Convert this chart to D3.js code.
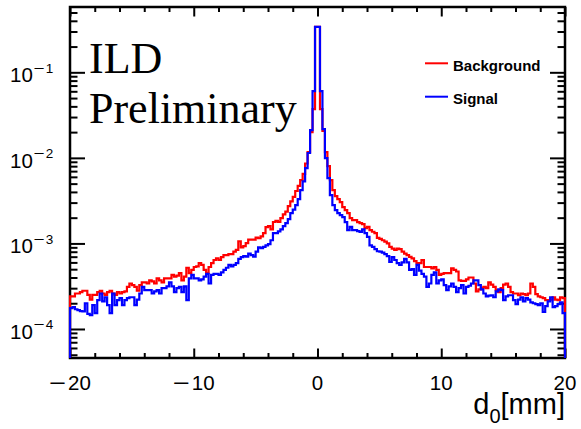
<!DOCTYPE html>
<html>
<head>
<meta charset="utf-8">
<script src="https://cdn.jsdelivr.net/npm/d3@7"></script>
<style>
  body { margin: 0; background: #fff; }
  svg { display: block; }
  .tick line { stroke: #000; stroke-width: 2; }
</style>
</head>
<body>
<div id="chart"></div>
<script>
// d0 histograms: 200 bins of 0.2 mm from -20 to 20, normalised
// values below are in units of 1e-4
const unit = 1e-4;
const xMin = -20, xMax = 20, nBins = 200;

const background = [
  2.4, 2.4, 2.6, 2.6, 2.7, 2.8, 2.8, 2.5, 2.2, 2.5,
  2.5, 2.7, 2.8, 2.6, 2.5, 2.7, 2.8, 2.6, 2.5, 2.7,
  2.6, 2.7, 2.75, 3.1, 3.4, 3.25, 3.1, 2.8, 3.25, 3.5,
  3.5, 3.4, 3.7, 3.6, 3.4, 3.9, 3.7, 3.5, 3.9, 3.9,
  3.9, 4.3, 4.1, 4.2, 4.5, 3.7, 4.1, 5.2, 4.5, 4.9,
  5.3, 5.4, 5.9, 5.6, 4.9, 4.5, 5.3, 5.9, 6.4, 6.7,
  6.4, 6.9, 7.3, 7.3, 7.5, 7.5, 8.0, 8.4, 10.6, 9.0,
  9.3, 10.1, 11.1, 11.1, 11.1, 11.7, 11.5, 12.1, 13.2, 15.5,
  15.9, 14.6, 17.8, 18.3, 17.8, 19.8, 21.8, 23.5, 27.3, 31,
  35, 41, 47, 55, 65, 86, 117, 200, 372, 3390,
  3390, 372, 206, 117, 80, 55, 42, 35.7, 33, 30.4,
  26.6, 24.5, 22.6, 19.8, 18.7, 18.7, 17.7, 17.3, 16.8, 15.1,
  15.6, 14.3, 13.7, 13.2, 11.6, 11.3, 10.9, 10.5, 10.0, 9.1,
  8.7, 8.4, 8.7, 8.6, 8.0, 7.6, 7.3, 6.95, 6.7, 6.2,
  5.9, 5.9, 6.4, 5.3, 5.3, 5.3, 5.1, 5.3, 4.9, 4.3,
  4.4, 4.5, 4.5, 4.5, 5.1, 4.9, 4.7, 3.7, 3.65, 3.65,
  3.8, 4.0, 4.0, 3.4, 2.75, 2.9, 3.0, 3.1, 3.0, 3.5,
  3.3, 3.1, 2.84, 2.7, 3.0, 3.3, 3.4, 3.1, 2.7, 2.6,
  2.6, 2.48, 2.6, 2.55, 2.48, 2.6, 3.4, 3.1, 2.55, 2.4,
  2.35, 2.3, 2.17, 2.17, 2.2, 2.35, 2.2, 2.17, 2.35, 2.3
];

const signal = [
  1.75, 1.8, 1.7, 1.66, 1.62, 1.6, 2.0, 1.5, 1.45, 1.9,
  1.53, 2.17, 2.6, 2.1, 2.35, 1.9, 1.53, 2.6, 1.9, 2.17,
  2.3, 1.9, 2.17, 2.3, 2.35, 2.35, 1.9, 2.2, 2.6, 3.1,
  2.84, 2.84, 2.84, 2.6, 2.75, 2.84, 2.6, 3.0, 3.0, 3.15,
  3.5, 3.15, 2.7, 3.0, 3.1, 2.7, 3.15, 2.17, 3.9, 4.3,
  3.9, 3.9, 3.7, 3.8, 4.1, 4.4, 3.4, 4.3, 4.4, 4.4,
  4.3, 4.6, 4.9, 5.2, 5.6, 5.4, 5.6, 5.9, 6.6, 6.9,
  7.1, 7.0, 7.6, 7.3, 7.0, 8.0, 9.0, 8.8, 9.1, 9.5,
  9.8, 10.9, 13.2, 13.2, 13.8, 14.6, 15.9, 17.3, 19.2, 22.6,
  24.9, 28, 33, 42, 53, 76, 114, 211, 604, 3390,
  3390, 604, 217, 99.5, 58, 36.7, 28, 24.5, 22.6, 21.4,
  20.3, 17.7, 14.3, 15.6, 14.3, 14.3, 13.9, 13.6, 14.6, 13.2,
  11.9, 9.5, 9.1, 8.6, 8.1, 8.0, 7.8, 7.5, 7.1, 6.1,
  6.9, 6.4, 5.9, 5.6, 6.0, 6.6, 6.0, 4.9, 5.0, 4.3,
  5.6, 4.8, 4.4, 4.1, 3.1, 3.4, 4.3, 4.6, 3.4, 3.7,
  3.8, 3.25, 2.84, 3.15, 3.4, 3.1, 2.7, 3.0, 3.25, 2.6,
  3.1, 3.2, 3.4, 3.7, 3.7, 3.25, 2.9, 2.6, 2.4, 2.45,
  2.48, 2.35, 2.75, 2.9, 2.84, 2.17, 2.4, 2.48, 2.48, 2.17,
  1.95, 2.2, 2.35, 2.1, 2.3, 2.2, 2.05, 2.0, 1.95, 1.9,
  2.0, 1.58, 1.85, 2.1, 2.35, 1.8, 1.85, 1.95, 2.05, 1.53
];

const xMajorTicks = [-20, -10, 0, 10, 20];
const xTickLabels = ["−20", "−10", "0", "10", "20"];
const yDecades = [-4, -3, -2, -1];
const yDomain = [4.58e-5, 0.58];

const series = [
  { name: "Background", values: background, color: "#ff0000" },
  { name: "Signal", values: signal, color: "#0000ff" }
];

const W = 581, H = 429;
const frame = { left: 70, right: 565, top: 7, bottom: 358 };
const sans = "'Liberation Sans', Arial, Helvetica, sans-serif";
const serif = "'Liberation Serif', 'Times New Roman', serif";

const svg = d3.select("#chart").append("svg")
  .attr("width", W)
  .attr("height", H)
  .style("background", "#fff");

const x = d3.scaleLinear()
  .domain([xMin, xMax])
  .range([frame.left, frame.right]);

const y = d3.scaleLog()
  .domain(yDomain)
  .range([frame.bottom, frame.top]);

// minor ticks: every 2 mm on x, 2..9 x 10^n on y
const xMinorTicks = d3.range(xMin, xMax + 0.001, 2).filter(v => !xMajorTicks.includes(v));
const yMajorTicks = yDecades.map(e => Math.pow(10, e));
const yMinorTicks = [];
[-5, -4, -3, -2, -1].forEach(e => {
  for (let m = 2; m <= 9; m++) {
    const v = m * Math.pow(10, e);
    if (v > yDomain[0] && v < yDomain[1]) yMinorTicks.push(v);
  }
});

function addAxis(axisFn, scale, values, size, transform) {
  svg.append("g")
    .attr("transform", transform)
    .call(axisFn(scale).tickValues(values).tickSize(-size).tickFormat(""))
    .call(g => g.select(".domain").remove());
}

// frame
svg.append("rect")
  .attr("x", frame.left)
  .attr("y", frame.top)
  .attr("width", frame.right - frame.left)
  .attr("height", frame.bottom - frame.top)
  .attr("fill", "none")
  .attr("stroke", "#000")
  .attr("stroke-width", 2.5);

// ticks on all four sides, pointing inwards
addAxis(d3.axisBottom, x, xMajorTicks, 9.5, `translate(0,${frame.bottom})`);
addAxis(d3.axisBottom, x, xMinorTicks, 5, `translate(0,${frame.bottom})`);
addAxis(d3.axisTop, x, xMajorTicks, 9.5, `translate(0,${frame.top})`);
addAxis(d3.axisTop, x, xMinorTicks, 5, `translate(0,${frame.top})`);
addAxis(d3.axisLeft, y, yMajorTicks, 15, `translate(${frame.left},0)`);
addAxis(d3.axisLeft, y, yMinorTicks, 7.5, `translate(${frame.left},0)`);
addAxis(d3.axisRight, y, yMajorTicks, 15, `translate(${frame.right},0)`);
addAxis(d3.axisRight, y, yMinorTicks, 7.5, `translate(${frame.right},0)`);

// x tick labels (ROOT draws a long minus sign)
xMajorTicks.forEach((v, i) => {
  const label = xTickLabels[i];
  const t = svg.append("text")
    .attr("x", x(v))
    .attr("y", 390)
    .attr("text-anchor", "middle")
    .attr("font-family", sans)
    .attr("font-size", 20.5);
  if (label.startsWith("−")) {
    t.append("tspan").text("−")
      .attr("textLength", 17)
      .attr("lengthAdjust", "spacingAndGlyphs");
    t.append("tspan").attr("dx", 2).text(label.slice(1));
  } else {
    t.text(label);
  }
});

// y tick labels 10^n
yDecades.forEach(e => {
  const t = svg.append("text")
    .attr("x", 10)
    .attr("y", y(Math.pow(10, e)) + 10)
    .attr("font-family", sans)
    .attr("font-size", 20.5);
  t.append("tspan").text("10");
  t.append("tspan")
    .attr("dx", 1)
    .attr("dy", -9.5)
    .attr("font-size", 13.5)
    .attr("textLength", 11)
    .attr("lengthAdjust", "spacingAndGlyphs")
    .text("−");
  t.append("tspan")
    .attr("dx", 1)
    .attr("font-size", 13.5)
    .text(String(-e));
});

// x axis title
const title = svg.append("text")
  .attr("x", frame.right)
  .attr("y", 414)
  .attr("text-anchor", "end")
  .attr("font-family", sans)
  .attr("font-size", 29);
title.append("tspan").text("d");
title.append("tspan").attr("dy", 9).attr("font-size", 20).text("0");
title.append("tspan").attr("dy", -9).text("[mm]");

// histograms
svg.append("clipPath").attr("id", "plot-clip")
  .append("rect")
  .attr("x", frame.left - 1.5)
  .attr("y", frame.top)
  .attr("width", frame.right - frame.left + 3)
  .attr("height", frame.bottom - frame.top);

const binW = (xMax - xMin) / nBins;
const line = d3.line();

function stepPoints(values) {
  const pts = [[x(xMin), frame.bottom + 5]];
  values.forEach((v, i) => {
    const yy = y(v * unit);
    pts.push([x(xMin + i * binW), yy]);
    pts.push([x(xMin + (i + 1) * binW), yy]);
  });
  pts.push([x(xMax), frame.bottom + 5]);
  return pts;
}

svg.append("g")
  .attr("clip-path", "url(#plot-clip)")
  .selectAll("path")
  .data(series)
  .enter().append("path")
  .attr("d", d => line(stepPoints(d.values)))
  .attr("fill", "none")
  .attr("stroke", d => d.color)
  .attr("stroke-width", 2.2)
  .attr("stroke-linejoin", "miter");

// ILD Preliminary label
svg.append("text")
  .attr("x", 89)
  .attr("y", 73)
  .attr("font-family", serif)
  .attr("font-size", 44)
  .text("ILD");
svg.append("text")
  .attr("x", 89)
  .attr("y", 123)
  .attr("font-family", serif)
  .attr("font-size", 44)
  .text("Preliminary");

// legend
const legend = svg.append("g").selectAll("g")
  .data(series)
  .enter().append("g")
  .attr("transform", (d, i) => `translate(0,${i * 33.4})`);

legend.append("line")
  .attr("x1", 425).attr("x2", 448)
  .attr("y1", 63.3).attr("y2", 63.3)
  .attr("stroke", d => d.color)
  .attr("stroke-width", 2);

legend.append("text")
  .attr("x", 453)
  .attr("y", 70.5)
  .attr("font-family", sans)
  .attr("font-weight", "bold")
  .attr("font-size", 15)
  .text(d => d.name);
</script>
</body>
</html>
